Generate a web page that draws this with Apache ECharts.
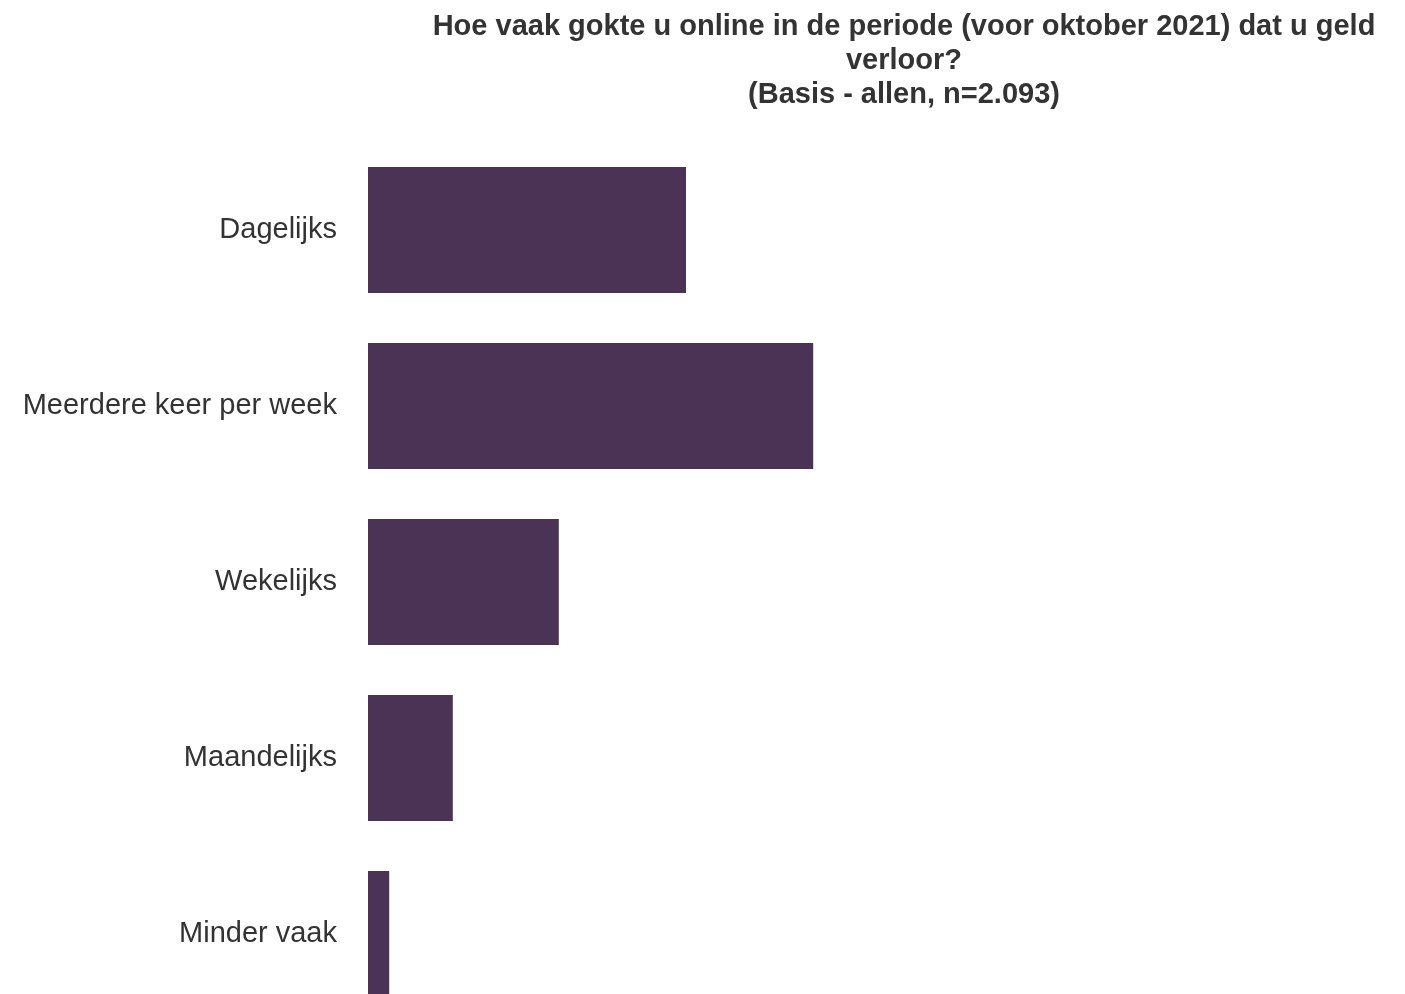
<!DOCTYPE html>
<html>
<head>
<meta charset="utf-8">
<script src="https://cdn.jsdelivr.net/npm/echarts@6/dist/echarts.min.js"></script>
<style>
html,body{margin:0;padding:0;background:#fff;overflow:hidden;}
#chart{width:1405px;height:1040px;}
</style>
</head>
<body>
<div id="chart"></div>
<script>
const categories = ["Dagelijks", "Meerdere keer per week", "Wekelijks", "Maandelijks", "Minder vaak"];
const values = [30, 42, 18, 8, 2];
const titleText = "Hoe vaak gokte u online in de periode (voor oktober 2021) dat u geld\nverloor?\n(Basis - allen, n=2.093)";

const chart = echarts.init(document.getElementById('chart'), null, {renderer: 'canvas'});
chart.setOption({
  animation: false,
  backgroundColor: '#ffffff',
  title: {
    text: titleText,
    left: 899,
    top: 5,
    textAlign: 'center',
    textStyle: {
      fontFamily: 'Liberation Sans, Arial, sans-serif',
      fontWeight: 'bold',
      fontSize: 29,
      lineHeight: 34,
      color: '#333333'
    }
  },
  grid: {
    left: 368,
    top: 142,
    width: 1007,
    height: 880,
    containLabel: false
  },
  xAxis: {
    type: 'value',
    min: 0,
    max: 95,
    show: false
  },
  yAxis: {
    type: 'category',
    data: categories,
    inverse: true,
    axisLine: {show: false},
    axisTick: {show: false},
    splitLine: {show: false},
    axisLabel: {
      margin: 31,
      padding: [4, 0, 0, 0],
      fontFamily: 'Liberation Sans, Arial, sans-serif',
      fontSize: 29,
      color: '#333333'
    }
  },
  series: [{
    type: 'bar',
    data: values,
    barWidth: 126,
    itemStyle: {color: '#4B3355'},
    label: {show: false}
  }]
});
</script>
</body>
</html>
